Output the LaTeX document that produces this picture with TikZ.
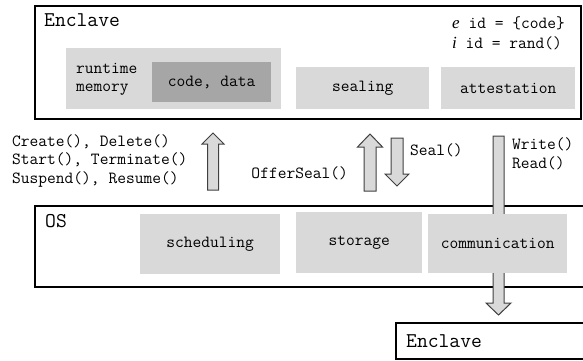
\documentclass[tikz,border=0pt]{standalone}
\usepackage{fontspec}
\newfontfamily\idfont{Liberation Serif}
\usetikzlibrary{calc}

% block arrow: tail, tip, shaft half width, head half width, head length (signed)
\newcommand\blockarrow[5]{%
  \filldraw[blockarr] ($(#1)+(-#3,0)$) -- ($(#2)+(-#3,#5)$) -- ($(#2)+(-#4,#5)$)
    -- (#2) -- ($(#2)+(#4,#5)$) -- ($(#2)+(#3,#5)$) -- ($(#1)+(#3,0)$) -- cycle;}

\begin{document}
\begin{tikzpicture}[x=1pt,y=-1pt,
  small/.style={font=\ttfamily\fontsize{17}{18.5}\selectfont},
  frame/.style={draw=black,line width=1.8pt,fill=white,inner sep=0pt,anchor=north west},
  lightbox/.style={fill=black!15,inner sep=0pt,anchor=north west,small},
  darkbox/.style={fill=black!35,inner sep=0pt,anchor=north west,small},
  txt/.style={inner sep=0pt,small},
  title/.style={font=\ttfamily\fontsize{21}{22}\selectfont,inner sep=0pt},
  blockarr/.style={fill=black!15,draw=black!75,line width=1pt,line join=miter}
]
\useasboundingbox (0,0) rectangle (583,360);
\clip (0,0) rectangle (583,360);

% ---- enclave (top) ----
\node[frame,minimum width=546pt,minimum height=113pt] (encl) at (34,5) {};
\node[title,anchor=west] (enclT) at (44,20) {Enclave};
\node[txt,anchor=west,align=left,font=\ttfamily\fontsize{17}{20}\selectfont] (ids) at (452,33)
  {{\idfont\itshape e} id = \{code\}\\{\idfont\itshape i} id = rand()};
\node[lightbox,minimum width=215pt,minimum height=61pt] (rt) at (66,48) {};
\node[txt,anchor=west,align=left] (rtT) at (76,79.5) {runtime\\memory};
\node[darkbox,minimum width=119pt,minimum height=40pt] (cd) at (152,62) {code, data};
\node[lightbox,minimum width=133pt,minimum height=42pt] (seal) at (296,67) {sealing};
\node[lightbox,minimum width=134pt,minimum height=42pt] (att) at (441,67) {attestation};

% ---- OS ----
\node[frame,minimum width=566pt,minimum height=81pt] (os) at (34,205) {};
\node[title,anchor=west] (osT) at (45,221) {OS};
\node[lightbox,minimum width=140pt,minimum height=60pt] (sch) at (140,214) {scheduling};
\node[lightbox,minimum width=126pt,minimum height=61pt] (sto) at (296,212) {storage};

% ---- enclave (bottom) ----
\node[frame,minimum width=205pt,minimum height=36pt] (encl2) at (395,322) {};
\node[title,anchor=west] (encl2T) at (406,341) {Enclave};

% ---- interface arrows ----
\coordinate (lcT) at (213,133);  \coordinate (lcB) at (213,190);
\coordinate (ofT) at (370,134);  \coordinate (ofB) at (370,191);
\coordinate (slT) at (397,138);  \coordinate (slB) at (397,186);
\coordinate (cmT) at (498.5,136); \coordinate (cmB) at (498.5,315);

\blockarrow{lcB}{lcT}{5.5}{11}{11}
\blockarrow{ofB}{ofT}{6}{12.5}{13}
\blockarrow{slT}{slB}{6}{12}{-12}
\blockarrow{cmT}{cmB}{5.5}{12.5}{-12}

% communication box sits over the long arrow
\node[lightbox,minimum width=139pt,minimum height=59pt] (com) at (428,214) {communication};

% ---- labels ----
\node[txt,anchor=west,align=left] (lcL) at (12,160.5)
  {Create(), Delete()\\Start(), Terminate()\\Suspend(), Resume()};
\node[txt,anchor=east] (ofL) at (348,173) {OfferSeal()};
\node[txt,anchor=west] (slL) at (410,150) {Seal()};
\node[txt,anchor=west,align=left] (cmL) at (512,154) {Write()\\Read()};
\end{tikzpicture}
\end{document}
